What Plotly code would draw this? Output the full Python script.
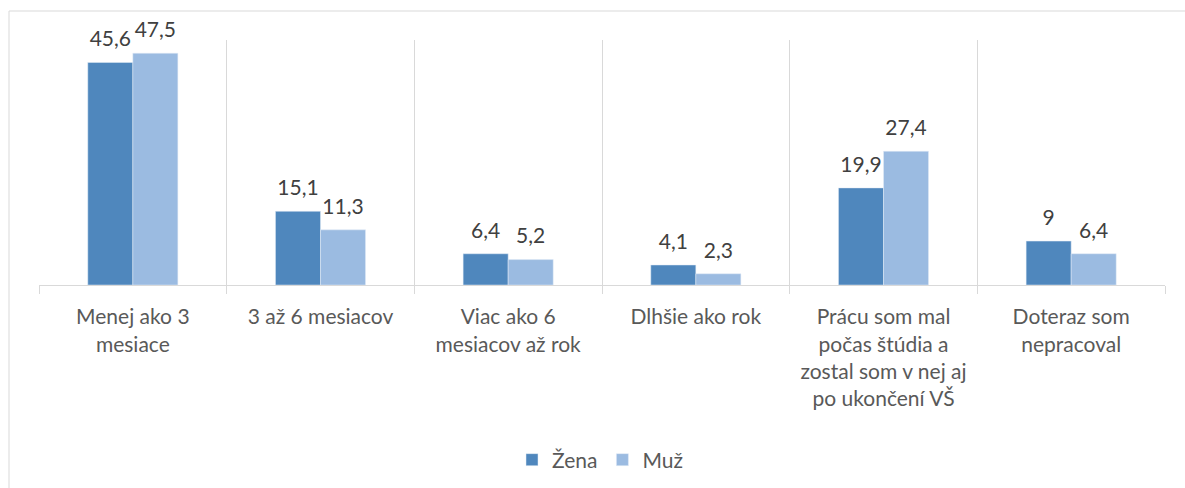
import plotly.graph_objects as go

categories = ["Menej ako 3<br>mesiace", "3 až 6 mesiacov", "Viac ako 6<br>mesiacov až rok",
              "Dlhšie ako rok", "Prácu som mal<br>počas štúdia a<br>zostal som v nej aj<br>po ukončení VŠ",
              "Doteraz som<br>nepracoval"]
zena = [45.6, 15.1, 6.4, 4.1, 19.9, 9]
muz = [47.5, 11.3, 5.2, 2.3, 27.4, 6.4]
series = [("Žena", zena, "#4F87BD"), ("Muž", muz, "#9BBBE1")]

FONT = "Lato"
FS = 21
fig = go.Figure()
for name, vals, col in series:
    fig.add_trace(go.Bar(name=name, x=categories, y=vals, marker_color=col))
for name, vals, col in series:
    fig.add_trace(go.Scatter(x=categories, y=vals, mode="markers+text", showlegend=False,
                             marker=dict(size=16, opacity=0), texttemplate="%{y}",
                             textposition="top center", hoverinfo="skip", cliponaxis=False,
                             textfont=dict(size=FS, color="#404040", family=FONT)))

W, H = 1185, 488
L, R, T, B = 39, 20, 40, 203
pw, ph = W - L - R, H - T - B

fig.update_layout(
    width=W, height=H, separators=", ",
    margin=dict(l=L, r=R, t=T, b=B, autoexpand=False),
    paper_bgcolor="white", plot_bgcolor="white",
    barmode="group", bargap=0.52, bargroupgap=0,
    scattermode="group", scattergap=0.52,
    font=dict(family=FONT, size=FS, color="#595959"),
    xaxis=dict(tickson="boundaries", showgrid=True, gridcolor="#D9D9D9", gridwidth=1,
               ticks="outside", ticklen=8, tickcolor="#D9D9D9",
               showline=True, linecolor="#D9D9D9", linewidth=1, automargin=False,
               ticklabelstandoff=13,
               tickfont=dict(size=FS, color="#595959", family=FONT), tickangle=0),
    yaxis=dict(range=[0, 50.2], visible=False, showgrid=False, zeroline=False),
    legend=dict(orientation="h", x=(600 - L) / pw, xanchor="center",
                y=(T + ph - 460) / ph, yanchor="middle",
                font=dict(size=FS, color="#595959", family=FONT)),
    showlegend=True,
    shapes=[dict(type="rect", xref="paper", yref="paper",
                 x0=(9 - L) / pw, x1=(1200 - L) / pw,
                 y0=(T + ph - 500) / ph, y1=(T + ph - 11) / ph,
                 line=dict(color="#D9D9D9", width=1), fillcolor="rgba(0,0,0,0)", layer="below")],
)
fig.write_html("out.html", config={"displayModeBar": False},
               post_script="document.body.style.margin='0';document.body.style.padding='0';")
